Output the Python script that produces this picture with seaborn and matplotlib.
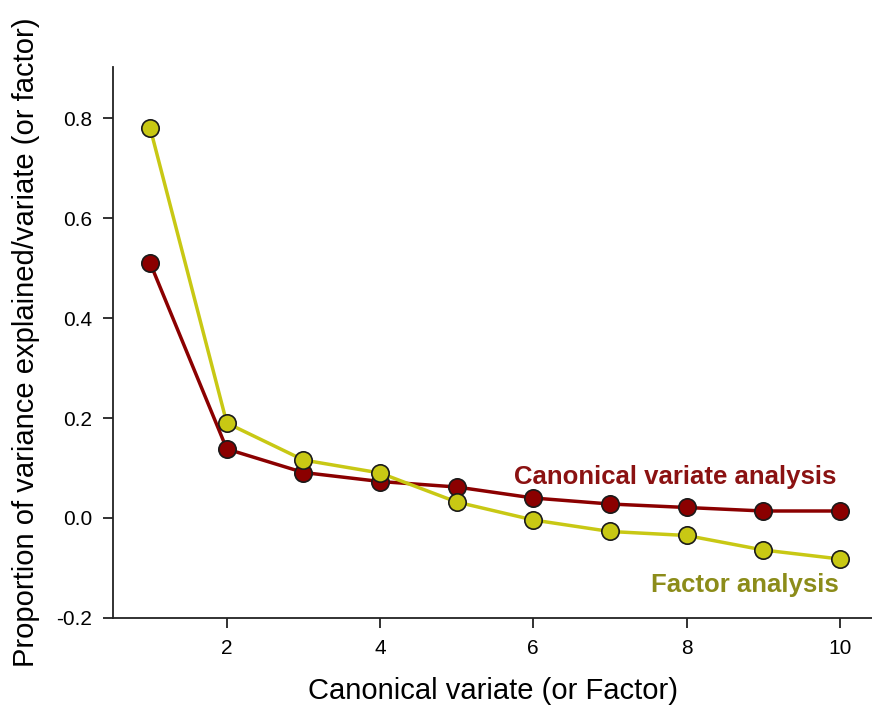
import numpy as np
import pandas as pd
import matplotlib
matplotlib.use('Agg')
import matplotlib.pyplot as plt
import seaborn as sns

# values
variate = [1, 2, 3, 4, 5, 6, 7, 8, 9, 10]
cva = [0.51, 0.138, 0.091, 0.073, 0.062, 0.040, 0.028, 0.021, 0.014, 0.014]
factor = [0.78, 0.19, 0.116, 0.090, 0.032, -0.004, -0.027, -0.035, -0.064, -0.082]
xticks = [2, 4, 6, 8, 10]
yticks = [-0.2, 0.0, 0.2, 0.4, 0.6, 0.8]

red = '#8B0000'
yellow = '#C8C814'
red_text = '#8B1212'
olive_text = '#8C8C1A'

sns.set_style('ticks')
plt.rcParams['font.family'] = ['Liberation Sans', 'DejaVu Sans']

df = pd.DataFrame({'variate': variate, 'cva': cva, 'factor': factor})

fig = plt.figure(figsize=(8.72, 7.14), dpi=100)
ax = fig.add_axes([0.1296, 0.1345, 0.8704, 0.7715])

sns.lineplot(data=df, x='variate', y='cva', ax=ax, color=red, linewidth=2.5,
             marker='o', markersize=12.5, markerfacecolor=red,
             markeredgecolor='#1a1a1a', markeredgewidth=1.2)
sns.lineplot(data=df, x='variate', y='factor', ax=ax, color=yellow, linewidth=2.5,
             marker='o', markersize=12.5, markerfacecolor=yellow,
             markeredgecolor='#1a1a1a', markeredgewidth=1.2)

ax.set_xlim(0.515, 10.42)
ax.set_ylim(-0.2, 0.902)
ax.set_xticks(xticks)
ax.set_yticks(yticks)
ax.set_yticklabels(['-0.2', '0.0', '0.2', '0.4', '0.6', '0.8'])
ax.tick_params(axis='both', direction='out', length=7, width=1.3, labelsize=15,
               colors='#222222', labelcolor='black', pad=8)
for s in ['left', 'bottom']:
    ax.spines[s].set_linewidth(1.3)
    ax.spines[s].set_color('#222222')
sns.despine(ax=ax)

ax.set_xlabel('Canonical variate (or Factor)', fontsize=21, labelpad=14, color='black')
ax.set_ylabel('Proportion of variance explained/variate (or factor)', fontsize=21,
              labelpad=12, color='black')

ax.text(9.95, 0.082, 'Canonical variate analysis', color=red_text, fontsize=18.5,
        fontweight='bold', ha='right', va='center')
ax.text(9.99, -0.134, 'Factor analysis', color=olive_text, fontsize=18.5,
        fontweight='bold', ha='right', va='center')

fig.savefig('out.png', dpi=100)
